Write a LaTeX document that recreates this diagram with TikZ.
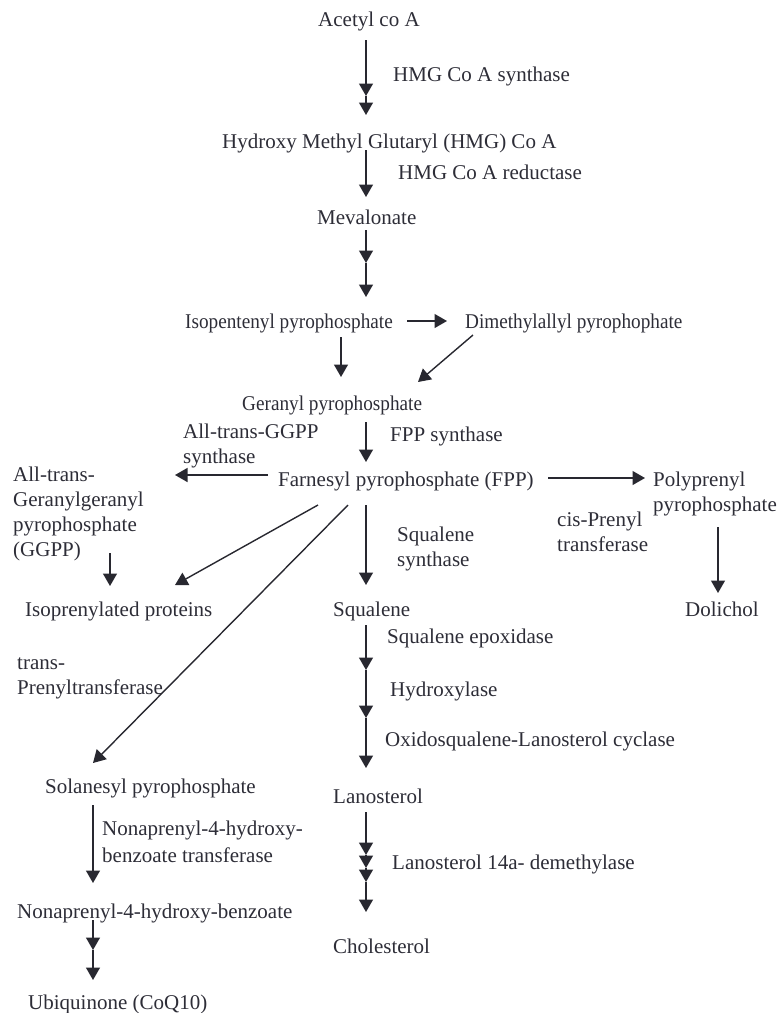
\documentclass[tikz,border=0pt]{standalone}
\usepackage{fontspec}
\setmainfont{Liberation Serif}
\usetikzlibrary{arrows.meta}
\definecolor{txt}{RGB}{45,45,55}
\definecolor{ln}{RGB}{40,40,48}
\newcommand{\condensed}[1]{\scalebox{0.915}[1]{#1}}
\tikzset{
  lbl/.style={anchor=base west, inner sep=0pt, text=txt, font=\fontsize{21}{25}\selectfont, align=left},
  arr/.style={draw=ln, line width=1.4pt, -{Triangle[width=14pt,length=12.5pt]}},
}
\begin{document}
\begin{tikzpicture}[x=1pt,y=-1pt]
\useasboundingbox (0,0) rectangle (780,1013);
% compounds (multi-line nodes: base = last line)
\node[lbl] (acetyl) at (318,26) {Acetyl co A};
\node[lbl] (hmg) at (222,148) {Hydroxy Methyl Glutaryl (HMG) Co A};
\node[lbl] (meval) at (317,224) {Mevalonate};
\node[lbl] (ipp) at (185,328) {\condensed{Isopentenyl pyrophosphate}};
\node[lbl] (dmapp) at (465,328) {\condensed{Dimethylallyl pyrophophate}};
\node[lbl] (gpp) at (242,410) {\condensed{Geranyl pyrophosphate}};
\node[lbl] (fpp) at (278,486) {Farnesyl pyrophosphate (FPP)};
\node[lbl] (ggpp) at (13,556) {All-trans-\\Geranylgeranyl\\pyrophosphate\\(GGPP)};
\node[lbl] (poly) at (653,511) {Polyprenyl\\pyrophosphate};
\node[lbl] (iso) at (25,616) {Isoprenylated proteins};
\node[lbl] (sq) at (333,616) {Squalene};
\node[lbl] (dol) at (685,616) {Dolichol};
\node[lbl] (sol) at (45,793) {Solanesyl pyrophosphate};
\node[lbl] (lano) at (333,803) {Lanosterol};
\node[lbl] (nonab) at (17,918) {Nonaprenyl-4-hydroxy-benzoate};
\node[lbl] (chol) at (333,953) {Cholesterol};
\node[lbl] (ubiq) at (28,1009) {Ubiquinone (CoQ10)};
% enzymes
\node[lbl] (lsyn) at (393,81) {HMG Co A synthase};
\node[lbl] (lred) at (398,179) {HMG Co A reductase};
\node[lbl] (lggpps) at (183,463) {All-trans-GGPP\\synthase};
\node[lbl] (lfpps) at (390,441) {FPP synthase};
\node[lbl] (lcis) at (557,551) {cis-Prenyl\\transferase};
\node[lbl] (lsqs) at (397,566) {Squalene\\synthase};
\node[lbl] (lsqe) at (387,643) {Squalene epoxidase};
\node[lbl] (lhyd) at (390,696) {Hydroxylase};
\node[lbl] (loxi) at (385,746) {Oxidosqualene-Lanosterol cyclase};
\node[lbl] (ltrans) at (17,694) {trans-\\Prenyltransferase};
\node[lbl, font=\fontsize{21}{26.5}\selectfont] (lnon) at (102,862) {Nonaprenyl-4-hydroxy-\\benzoate transferase};
\node[lbl] (ldem) at (392,869) {Lanosterol 14a- demethylase};
% arrow points
\coordinate (a1s) at (366,40);  \coordinate (a1m) at (366,96);  \coordinate (a1e) at (366,115);
\coordinate (a2s) at (366,150); \coordinate (a2e) at (366,197);
\coordinate (a3s) at (366,230); \coordinate (a3m) at (366,263); \coordinate (a3e) at (366,297);
\coordinate (a4s) at (407,321); \coordinate (a4e) at (447,321);
\coordinate (a5s) at (341,337); \coordinate (a5e) at (341,377);
\coordinate (a6s) at (473,335); \coordinate (a6e) at (418,382);
\coordinate (a7s) at (366,422); \coordinate (a7e) at (366,462);
\coordinate (a8s) at (268,475); \coordinate (a8e) at (175,475);
\coordinate (a9s) at (548,478); \coordinate (a9e) at (645,478);
\coordinate (a10s) at (110,553); \coordinate (a10e) at (110,586);
\coordinate (a11s) at (318,505); \coordinate (a11e) at (175,585);
\coordinate (a12s) at (348,505); \coordinate (a12e) at (93,763);
\coordinate (a13s) at (366,505); \coordinate (a13e) at (366,585);
\coordinate (a14s) at (718,527); \coordinate (a14e) at (718,593);
\coordinate (a15s) at (366,625); \coordinate (a15m) at (366,670); \coordinate (a15n) at (366,718); \coordinate (a15e) at (366,768);
\coordinate (a16s) at (366,812); \coordinate (a16m) at (366,855); \coordinate (a16n) at (366,868); \coordinate (a16o) at (366,882); \coordinate (a16e) at (366,912);
\coordinate (a17s) at (93,805); \coordinate (a17e) at (93,883);
\coordinate (a18s) at (93,920); \coordinate (a18m) at (93,950); \coordinate (a18e) at (93,980);
% arrows
\draw[arr] (a1s) -- (a1m); \draw[arr] (a1m) -- (a1e);
\draw[arr] (a2s) -- (a2e);
\draw[arr] (a3s) -- (a3m); \draw[arr] (a3m) -- (a3e);
\draw[arr] (a4s) -- (a4e);
\draw[arr] (a5s) -- (a5e);
\draw[arr] (a6s) -- (a6e);
\draw[arr] (a7s) -- (a7e);
\draw[arr] (a8s) -- (a8e);
\draw[arr] (a9s) -- (a9e);
\draw[arr] (a10s) -- (a10e);
\draw[arr] (a11s) -- (a11e);
\draw[arr] (a12s) -- (a12e);
\draw[arr] (a13s) -- (a13e);
\draw[arr] (a14s) -- (a14e);
\draw[arr] (a15s) -- (a15m); \draw[arr] (a15m) -- (a15n); \draw[arr] (a15n) -- (a15e);
\draw[arr] (a16s) -- (a16m); \draw[arr] (a16m) -- (a16n); \draw[arr] (a16n) -- (a16o); \draw[arr] (a16o) -- (a16e);
\draw[arr] (a17s) -- (a17e);
\draw[arr] (a18s) -- (a18m); \draw[arr] (a18m) -- (a18e);
\end{tikzpicture}
\end{document}
